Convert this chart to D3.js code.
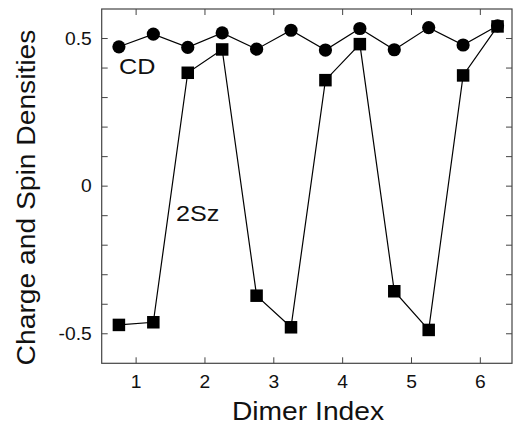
<!DOCTYPE html>
<html><head><meta charset="utf-8">
<script src="https://cdn.jsdelivr.net/npm/d3@7"></script>
<style>body{margin:0;background:#fff}svg{display:block}text{font-family:"Liberation Sans",Arial,sans-serif}</style>
</head><body>
<svg id="c" width="515" height="427"></svg>
<script>
const dimerIndex = [0.75,1.25,1.75,2.25,2.75,3.25,3.75,4.25,4.75,5.25,5.75,6.25];
const cdValues = [0.472,0.515,0.470,0.519,0.464,0.528,0.461,0.534,0.462,0.537,0.478,0.543];
const szValues = [-0.470,-0.461,0.384,0.463,-0.371,-0.478,0.359,0.481,-0.356,-0.487,0.375,0.541];
const xTicks = [1,2,3,4,5,6];
const yTicks = [-0.5,0,0.5];
const yMinor = [-0.5,-0.4,-0.3,-0.2,-0.1,0,0.1,0.2,0.3,0.4,0.5];
const yTickLabels = ["-0.5","0","0.5"];

const svg = d3.select("#c");
const L=101.7, R=512, T=9, B=363.3;
const x = d3.scaleLinear().domain([0.5,6.46]).range([L,R]);
const y = d3.scaleLinear().domain([-0.6,0.6]).range([B,T]);
const col="#111", frameCol="#444";
function stext(px,py,size,sx,anchor,str){
  return svg.append("text").attr("transform",`translate(${px},${py}) scale(${sx},1)`)
    .attr("text-anchor",anchor).attr("font-size",size).attr("fill",col).text(str);
}

const tl=6;
const g = svg.append("g");
yMinor.forEach(v=>{
  g.append("line").attr("x1",L).attr("x2",L+tl).attr("y1",y(v)).attr("y2",y(v)).attr("stroke",frameCol).attr("stroke-width",1);
  g.append("line").attr("x1",R).attr("x2",R-tl).attr("y1",y(v)).attr("y2",y(v)).attr("stroke",frameCol).attr("stroke-width",1);
});
xTicks.forEach(v=>{
  g.append("line").attr("y1",B).attr("y2",B-tl).attr("x1",x(v)).attr("x2",x(v)).attr("stroke",frameCol).attr("stroke-width",1);
  g.append("line").attr("y1",T).attr("y2",T+tl).attr("x1",x(v)).attr("x2",x(v)).attr("stroke",frameCol).attr("stroke-width",1);
  stext(x(v),B+25,17.5,1.1,"middle",v);
});
yTicks.forEach((v,i)=>{
  stext(L-10,y(v)+6,17.5,1.1,"end",yTickLabels[i]);
});
svg.append("rect").attr("x",L).attr("y",T).attr("width",R-L).attr("height",B-T).attr("fill","none").attr("stroke",frameCol).attr("stroke-width",1.2);

const line = d3.line().x((d,i)=>x(dimerIndex[i])).y(d=>y(d));
svg.append("path").attr("d",line(szValues)).attr("fill","none").attr("stroke","#000").attr("stroke-width",1.2);
svg.append("path").attr("d",line(cdValues)).attr("fill","none").attr("stroke","#000").attr("stroke-width",1.2);
const s=12.5;
svg.selectAll("rect.sq").data(szValues).enter().append("rect").attr("class","sq")
  .attr("x",(d,i)=>x(dimerIndex[i])-s/2).attr("y",d=>y(d)-s/2).attr("width",s).attr("height",s).attr("fill","#000");
svg.selectAll("circle.cd").data(cdValues).enter().append("circle").attr("class","cd")
  .attr("cx",(d,i)=>x(dimerIndex[i])).attr("cy",d=>y(d)).attr("r",6.6).attr("fill","#000");

stext(119,74,22.5,1.12,"start","CD");
stext(176,221,22.5,1.12,"start","2Sz");

stext(308,420,25,1.13,"middle","Dimer Index");
svg.append("text").attr("transform",`translate(35,197.5) rotate(-90) scale(1.13,1)`).attr("text-anchor","middle").attr("font-size",25).attr("fill",col).text("Charge and Spin Densities");
</script>
</body></html>
